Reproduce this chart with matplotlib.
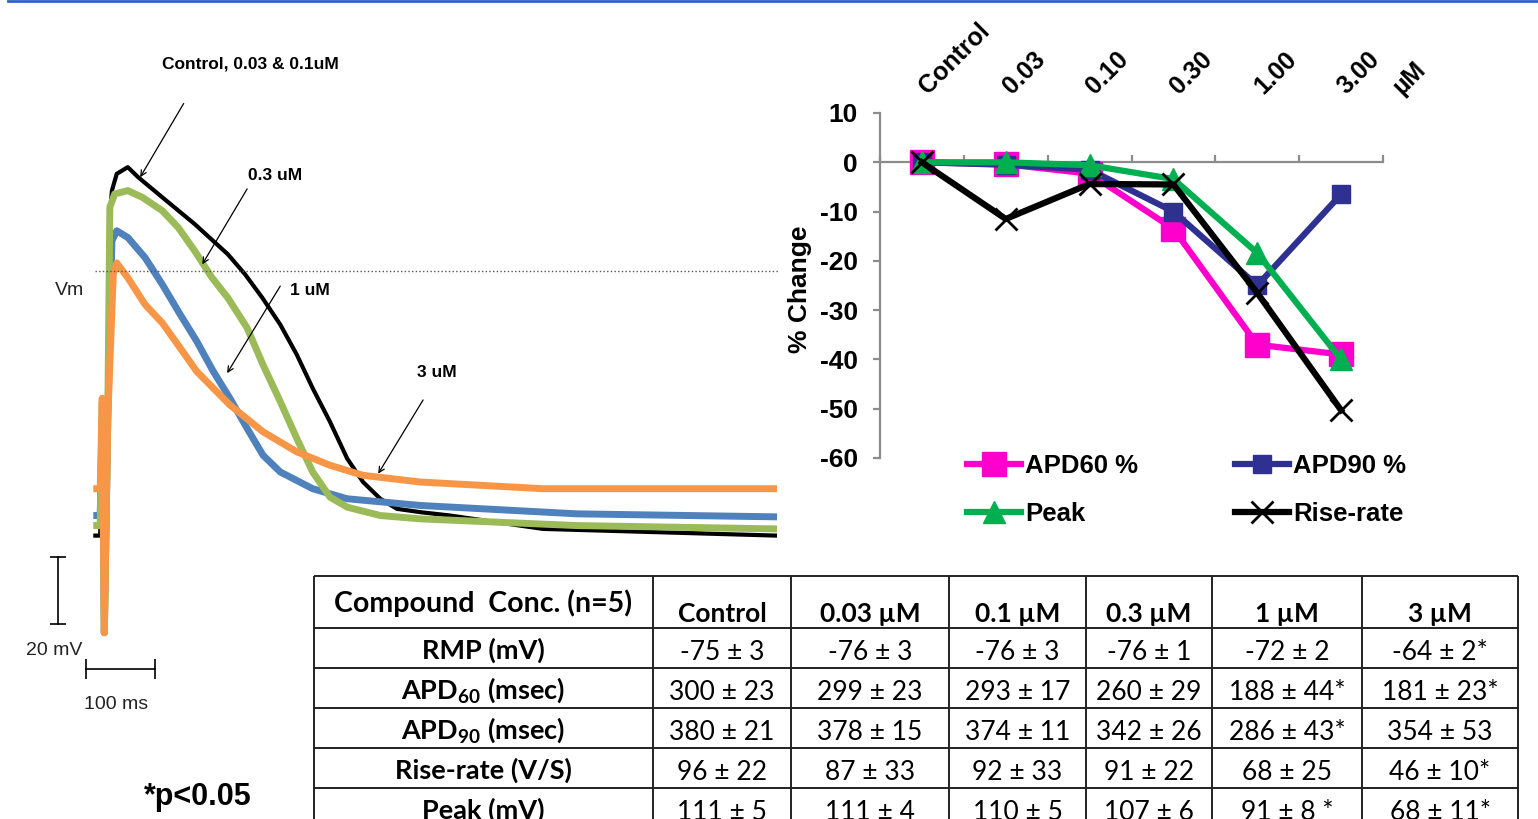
import matplotlib
matplotlib.use('Agg')
import matplotlib.pyplot as plt
from matplotlib.lines import Line2D

plt.rcParams['font.family'] = ['Liberation Sans', 'DejaVu Sans']
plt.rcParams['axes.unicode_minus'] = False
plt.rcParams['mathtext.fontset'] = 'custom'
plt.rcParams['mathtext.rm'] = 'Lato'
plt.rcParams['mathtext.bf'] = 'Lato:bold'

# action potential traces, time in ms and membrane voltage in mV
ctrl_t = [-17, -7, -4, -1, 4, 7, 10, 17, 33, 48, 83, 130, 178, 203, 228, 254, 278, 301, 326,
          351, 374, 399, 423, 457, 500, 635, 974]
ctrl_v = [-79, -79, -38, -108, -44, 16, 24, 29, 31, 28, 22, 14, 5, -1, -8, -16, -25, -35, -45,
          -56, -63, -68, -71, -72, -73, -77, -79]

c03_t = [-17, -7, -4, -1, 4, 7, 14, 33, 54, 83, 106, 130, 155, 178, 206, 229, 254, 278, 301,
         326, 351, 399, 457, 684, 974]
c03_v = [-76, -76, -39, -108, -44, 19, 23, 24, 22, 18, 13, 6, -2, -8, -17, -28, -39, -50, -60,
         -67.5, -70.5, -73, -74, -76, -77]

c1_t = [-17, -7, -4, -1, 4, 10, 17, 33, 58, 83, 109, 133, 157, 181, 206, 229, 254, 301, 351,
        457, 684, 974]
c1_v = [-73, -73, -44, -108, -44, 9, 12, 10, 4, -4, -13, -21, -30, -38, -47, -55, -60, -65, -68,
        -70, -72.5, -73.4]

c3_t = [-17, -7, -4, -1, 4, 12, 17, 33, 58, 83, 109, 133, 181, 229, 278, 326, 374, 457, 635, 974]
c3_v = [-65, -65, -38, -108, -44, -1, 2.4, -2, -10, -15.5, -23, -30, -40, -48, -54, -58, -61,
        -63, -65, -65]

# percent change vs concentration
conc_labels = ['Control', '0.03', '0.10', '0.30', '1.00', '3.00']
apd60_pct = [0, -0.4, -2.3, -13.5, -37, -39]
apd90_pct = [0, -0.5, -1.5, -10, -25, -6.5]
peak_pct = [0, 0, -0.6, -3.4, -18.4, -40]
rise_pct = [0, -11.5, -4.4, -4.5, -26.5, -50.3]

# summary table
col_heads = ['Control', '0.03 µM', '0.1 µM', '0.3 µM', '1 µM', '3 µM']
row_heads = ['RMP (mV)', r'APD$_{\mathbf{60}}$ (msec)', r'APD$_{\mathbf{90}}$ (msec)',
             'Rise-rate (V/S)', 'Peak (mV)']
rmp_vals = ['-75 ± 3', '-76 ± 3', '-76 ± 3', '-76 ± 1', '-72 ± 2', '-64 ± 2*']
apd60_vals = ['300 ± 23', '299 ± 23', '293 ± 17', '260 ± 29', '188 ± 44*', '181 ± 23*']
apd90_vals = ['380 ± 21', '378 ± 15', '374 ± 11', '342 ± 26', '286 ± 43*', '354 ± 53']
rise_vals = ['96 ± 22', '87 ± 33', '92 ± 33', '91 ± 22', '68 ± 25', '46 ± 10*']
peak_vals = ['111 ± 5', '111 ± 4', '110 ± 5', '107 ± 6', '91 ± 8 *', '68 ± 11*']

W, H = 1538, 819
fig = plt.figure(figsize=(W / 100, H / 100), dpi=100)


def px_axes(x0, y0, x1, y1):
    return fig.add_axes([x0 / W, 1 - y1 / H, (x1 - x0) / W, (y1 - y0) / H])


fig.add_artist(Line2D([8 / W, 1], [1 - 1.2 / H, 1 - 1.2 / H], color='#2f62c8', lw=2,
                      transform=fig.transFigure))

# ---- left: traces ----
ax = px_axes(0, 0, 780, 819)
ax.set_xlim(-152.2, 978.3)
ax.set_ylim(-163.6, 80.9)
ax.axis('off')
tr = dict(solid_joinstyle='round', solid_capstyle='butt')
ax.plot(ctrl_t, ctrl_v, color='black', lw=3, **tr)
ax.plot(c1_t, c1_v, color='#4f81bd', lw=5, **tr)
ax.plot(c03_t, c03_v, color='#9bbb59', lw=5, **tr)
ax.plot(c3_t, c3_v, color='#f79646', lw=5, **tr)
ax.plot([-14.5, 975], [0, 0], color='#555555', lw=1, ls=':')

ann = dict(arrowstyle='->', color='black', lw=0.9, shrinkA=0, shrinkB=0)
ax.annotate('', xy=(51, 28), xytext=(114, 50), arrowprops=ann)
ax.annotate('', xy=(141, 2), xytext=(206, 24.5), arrowprops=ann)
ax.annotate('', xy=(177, -30.5), xytext=(254, -4.5), arrowprops=ann)
ax.annotate('', xy=(396, -60.5), xytext=(461, -38.5), arrowprops=ann)
lab = dict(fontsize=12.5, fontweight='bold', ha='center', va='center')
ax.text(210, 61.8, 'Control, 0.03 & 0.1uM', **lab)
ax.text(246, 28.4, '0.3 uM', **lab)
ax.text(297, -5.7, '1 uM', **lab)
ax.text(481, -30.4, '3 uM', **lab)
txt = dict(fontsize=14, ha='center', va='center', color='#222222')
ax.text(-51, -5.7, 'Vm', **txt)
ax.text(-74, -113.4, '20 mV', **txt)
ax.text(16, -129.3, '100 ms', **txt)
ax.plot([-68, -68], [-85.4, -105.4], color='black', lw=1.2, marker='_', ms=11, mew=1.2)
ax.plot([-27.5, 72.5], [-118.8, -118.8], color='black', lw=1.2, marker='|', ms=14, mew=1.2)
ax.text(-152 + 198 / 0.69, (271 - 797) / 3.35, '*p<0.05', fontsize=22, fontweight='bold',
        ha='center', va='center')

# ---- right: % change ----
axr = px_axes(880, 113, 1383, 458)
x = list(range(len(conc_labels)))
h1, = axr.plot(x, apd60_pct, color='#ff00cc', lw=4.5, marker='s', ms=17, zorder=3)
h2, = axr.plot(x, apd90_pct, color='#2e3192', lw=4.5, marker='s', ms=13, zorder=4)
h3, = axr.plot(x, peak_pct, color='#00b050', lw=4.5, marker='^', ms=16, zorder=5)
h4, = axr.plot(x, rise_pct, color='black', lw=4.5, marker='x', ms=16, mew=2, zorder=6)
axr.set_xlim(-0.5, 5.5)
axr.set_ylim(-60, 10)
for s in ['top', 'right']:
    axr.spines[s].set_visible(False)
axr.spines['bottom'].set_position(('data', 0))
for s in ['left', 'bottom']:
    axr.spines[s].set_color('#8c8c8c')
    axr.spines[s].set_linewidth(1.6)
axr.set_xticks([i - 0.5 for i in range(7)])
axr.set_xticklabels([])
axr.tick_params(axis='x', direction='in', length=5, width=1.6, color='#8c8c8c')
axr.set_yticks(range(-60, 11, 10))
axr.tick_params(axis='y', direction='out', length=5, width=1.6, color='#8c8c8c',
                labelsize=19, pad=11)
for t in axr.get_yticklabels():
    t.set_fontweight('bold')
for i, c in enumerate(conc_labels):
    axr.text(i + 0.07, 13.6, c, rotation=45, rotation_mode='anchor', ha='left',
             va='baseline', fontsize=18, fontweight='bold', clip_on=False)
axr.text(5.72, 13.6, 'µM', rotation=45, rotation_mode='anchor', ha='left',
         va='baseline', fontsize=18, fontweight='bold', clip_on=False)
axr.set_ylabel('% Change', fontsize=19, fontweight='bold')
axr.yaxis.set_label_coords(-0.136, 0.49)
fig.legend([h1, h3, h2, h4], ['APD60 %', 'Peak', 'APD90 %', 'Rise-rate'], ncol=2,
           loc='upper left', bbox_to_anchor=(967 / W, 1 - 454 / H), frameon=False,
           prop={'size': 18.5, 'weight': 'bold'}, handlelength=2.1, handletextpad=0.15,
           columnspacing=3.8, labelspacing=0.95, borderpad=0, borderaxespad=0)

# ---- table ----
axt = px_axes(0, 0, W, H)
axt.set_xlim(0, W)
axt.set_ylim(H, 0)
axt.axis('off')
col_w = [339, 138, 158, 137, 126, 150, 156]
row_h = [52, 40, 40, 40, 40, 40]
left, top = 314, 576
xs = [left]
for w in col_w:
    xs.append(xs[-1] + w)
ys = [top]
for h in row_h:
    ys.append(ys[-1] + h)
axt.hlines(ys, xs[0], xs[-1], color='#222222', lw=1.4)
axt.vlines(xs, ys[0], ys[-1], color='#222222', lw=1.4)
tfont = ['Lato', 'DejaVu Sans']
axt.text((xs[0] + xs[1]) / 2, ys[0] + 27, 'Compound  Conc. (n=5)', fontsize=20.5,
         fontweight='bold', family=tfont, ha='center', va='center')
for j, c in enumerate(col_heads):
    axt.text((xs[j + 1] + xs[j + 2]) / 2, ys[0] + 38, c, fontsize=19, fontweight='bold',
             family=tfont, ha='center', va='center')
rows = [rmp_vals, apd60_vals, apd90_vals, rise_vals, peak_vals]
for i, (name, vals) in enumerate(zip(row_heads, rows)):
    yc = (ys[i + 1] + ys[i + 2]) / 2 + 2
    axt.text((xs[0] + xs[1]) / 2, yc, name, fontsize=19.5, fontweight='bold', family=tfont,
             ha='center', va='center')
    for j, v in enumerate(vals):
        axt.text((xs[j + 1] + xs[j + 2]) / 2, yc + 2, v, fontsize=19, family=tfont,
                 ha='center', va='center')

fig.savefig('out.png', dpi=100)
